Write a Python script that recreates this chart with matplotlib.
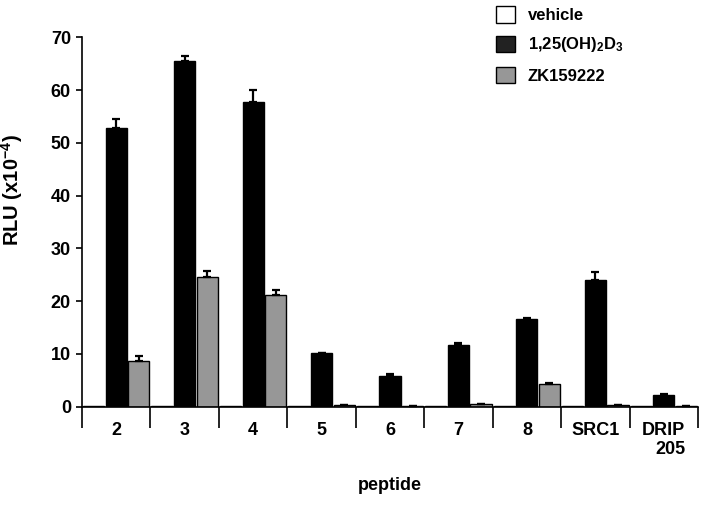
import numpy as np
import matplotlib.pyplot as plt
from matplotlib.patches import Patch

plt.rcParams['font.family'] = ['Liberation Sans', 'DejaVu Sans']
plt.rcParams['font.weight'] = 'bold'
plt.rcParams['axes.labelweight'] = 'bold'
plt.rcParams['mathtext.fontset'] = 'custom'
plt.rcParams['mathtext.rm'] = 'Liberation Sans:bold'
plt.rcParams['mathtext.bf'] = 'Liberation Sans:bold'
plt.rcParams['mathtext.default'] = 'bf'

# ---------- data ----------
peptides = ["2", "3", "4", "5", "6", "7", "8", "SRC1", "DRIP\n205"]
vehicle = [0.05, 0.05, 0.05, 0.05, 0.05, 0.05, 0.05, 0.05, 0.05]
vitd = [52.9, 65.5, 57.7, 10.1, 5.8, 11.6, 16.7, 24.1, 2.3]
vitd_err = [1.6, 1.0, 2.4, 0.1, 0.4, 0.45, 0.1, 1.4, 0.05]
zk = [8.7, 24.5, 21.2, 0.4, 0.2, 0.45, 4.3, 0.4, 0.2]
zk_err = [1.0, 1.15, 0.9, 0.0, 0.0, 0.0, 0.25, 0.0, 0.0]

fig = plt.figure(figsize=(7.14, 5.05), dpi=100)
ax = fig.add_axes([82/714, 1 - 406.7/505, (698 - 82)/714, (406.7 - 37.3)/505])

x = np.arange(len(peptides))
w = 0.31
off = 0.33
ekw = dict(elinewidth=1.6, capthick=1.6)
ax.bar(x - off, vehicle, w, color="white", edgecolor="black", linewidth=1)
ax.bar(x, vitd, w, color="black", edgecolor="black", linewidth=1,
       yerr=[np.zeros(len(x)), vitd_err], capsize=3, error_kw=ekw)
ax.bar(x + off, zk, w, color="#979797", edgecolor="black", linewidth=1,
       yerr=[np.zeros(len(x)), zk_err], capsize=3, error_kw=ekw)

ax.set_xlim(-0.5, len(x) - 0.5)
ax.set_ylim(0, 70)
ax.set_yticks(np.arange(0, 71, 10))
ax.tick_params(axis="y", labelsize=13, length=4, width=1.2, pad=4)
for s in ["top", "right"]:
    ax.spines[s].set_visible(False)
ax.spines["left"].set_linewidth(1.2)
ax.spines["bottom"].set_linewidth(1.2)

ax.set_xticks(x)
ax.set_xticklabels(peptides, fontsize=13, ha="center", ma="right", linespacing=1.15)
ax.tick_params(axis="x", which="major", length=0, pad=11)
ax.set_xticks(np.arange(len(x) + 1) - 0.5, minor=True)
ax.tick_params(axis="x", which="minor", length=15, width=1.2)

ax.set_ylabel(r"RLU (x10$^{-4}$)", fontsize=14.5)
ax.yaxis.set_label_coords(-0.093, 0.585)
ax.set_xlabel("peptide", fontsize=13, labelpad=14)

handles = [Patch(facecolor="white", edgecolor="black"),
           Patch(facecolor="#222222", edgecolor="black"),
           Patch(facecolor="#979797", edgecolor="black")]
labels = ["vehicle", r"1,25(OH)$_2$D$_3$", "ZK159222"]
fig.legend(handles, labels, loc="upper left", bbox_to_anchor=(496/714, 1 - 6/505),
           frameon=False, fontsize=12, handlelength=1.15, handleheight=1.15,
           handletextpad=0.75, labelspacing=0.75, borderpad=0, borderaxespad=0)

fig.savefig("out.png", dpi=100)
